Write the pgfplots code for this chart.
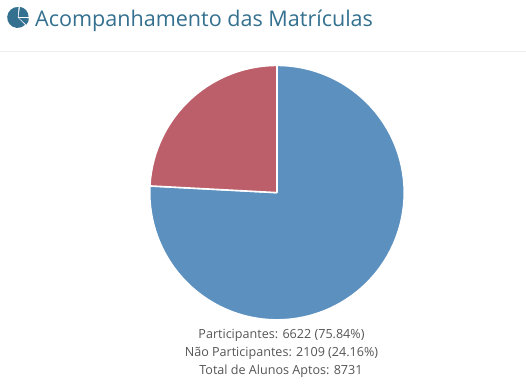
\documentclass[border=0pt]{standalone}
\usepackage{fontspec}
\setmainfont{Open Sans}
\usepackage{pgfplots}
\pgfplotsset{compat=1.18}
\definecolor{pieblue}{HTML}{5B90BF}
\definecolor{piered}{HTML}{BC5F6A}
\definecolor{titleblue}{HTML}{34708F}
\definecolor{bodytext}{HTML}{555555}
\definecolor{rulegrey}{HTML}{EEEEEE}
\begin{document}
\begin{tikzpicture}
\begin{axis}[
  x=1pt,y=1pt,
  xmin=-277,xmax=249,ymin=-192,ymax=193,
  hide axis,clip=false,
  scale only axis,
]
\path (axis cs:-277,-192) rectangle (axis cs:249,193);
% Participantes: 6622 (75.84%)
\addplot[data cs=polar,fill=pieblue,draw=white,line width=1.6pt,line join=round] coordinates {
(0,0) (90,127.5) (87,127.5) (84,127.5) (81,127.5) (78,127.5) (75,127.5) (72,127.5) (69,127.5) (66,127.5) (63,127.5)
(60,127.5) (57,127.5) (54,127.5) (51,127.5) (48,127.5) (45,127.5) (42,127.5) (39,127.5) (36,127.5) (33,127.5)
(30,127.5) (27,127.5) (24,127.5) (21,127.5) (18,127.5) (15,127.5) (12,127.5) (9,127.5) (6,127.5) (3,127.5)
(0,127.5) (-3,127.5) (-6,127.5) (-9,127.5) (-12,127.5) (-15,127.5) (-18,127.5) (-21,127.5) (-24,127.5) (-27,127.5)
(-30,127.5) (-33,127.5) (-36,127.5) (-39,127.5) (-42,127.5) (-45,127.5) (-48,127.5) (-51,127.5) (-54,127.5) (-57,127.5)
(-60,127.5) (-63,127.5) (-66,127.5) (-69,127.5) (-72,127.5) (-75,127.5) (-78,127.5) (-81,127.5) (-84,127.5) (-87,127.5)
(-90,127.5) (-93,127.5) (-96,127.5) (-99,127.5) (-102,127.5) (-105,127.5) (-108,127.5) (-111,127.5) (-114,127.5) (-117,127.5)
(-120,127.5) (-123,127.5) (-126,127.5) (-129,127.5) (-132,127.5) (-135,127.5) (-138,127.5) (-141,127.5) (-144,127.5) (-147,127.5)
(-150,127.5) (-153,127.5) (-156,127.5) (-159,127.5) (-162,127.5) (-165,127.5) (-168,127.5) (-171,127.5) (-174,127.5) (-177,127.5)
(-180,127.5) (-183.02,127.5) (0,0)
};
% Nao Participantes: 2109 (24.16%)
\addplot[data cs=polar,fill=piered,draw=white,line width=1.6pt,line join=round] coordinates {
(0,0) (90,127.5) (93,127.5) (96,127.5) (99,127.5) (102,127.5) (105,127.5) (108,127.5) (111,127.5) (114,127.5) (117,127.5)
(120,127.5) (123,127.5) (126,127.5) (129,127.5) (132,127.5) (135,127.5) (138,127.5) (141,127.5) (144,127.5) (147,127.5)
(150,127.5) (153,127.5) (156,127.5) (159,127.5) (162,127.5) (165,127.5) (168,127.5) (171,127.5) (174,127.5) (176.98,127.5) (0,0)
};
% header rule
\draw[rulegrey,line width=1pt] (axis cs:-277,141.7) -- (axis cs:249,141.7);
% icon
\fill[titleblue] (axis cs:-259.8,175.5) -- ++(85:10.5pt) arc[start angle=85,end angle=315,radius=10.5pt] -- cycle;
\fill[titleblue] (axis cs:-258.9,176.2) -- ++(0:10pt) arc[start angle=0,end angle=82,radius=10pt] -- cycle;
\fill[titleblue] (axis cs:-258.5,175.0) -- ++(-2:10pt) arc[start angle=-2,end angle=-42,radius=10pt] -- cycle;
% title
\node[anchor=base west,inner sep=0pt,text=titleblue,font=\fontsize{21.6pt}{26pt}\selectfont] at (axis cs:-242.5,166.5) {Acompanhamento das Matrículas};
% caption
\node[anchor=base,inner sep=0pt,text=bodytext,font=\fontsize{12.6pt}{15pt}\selectfont] at (axis cs:4.5,-146.3) {Participantes: 6622 (75.84\%)};
\node[anchor=base,inner sep=0pt,text=bodytext,font=\fontsize{12.6pt}{15pt}\selectfont] at (axis cs:4.5,-164.3) {Não Participantes: 2109 (24.16\%)};
\node[anchor=base,inner sep=0pt,text=bodytext,font=\fontsize{12.6pt}{15pt}\selectfont] at (axis cs:4,-182.3) {Total de Alunos Aptos: 8731};
\end{axis}
\end{tikzpicture}
\end{document}
